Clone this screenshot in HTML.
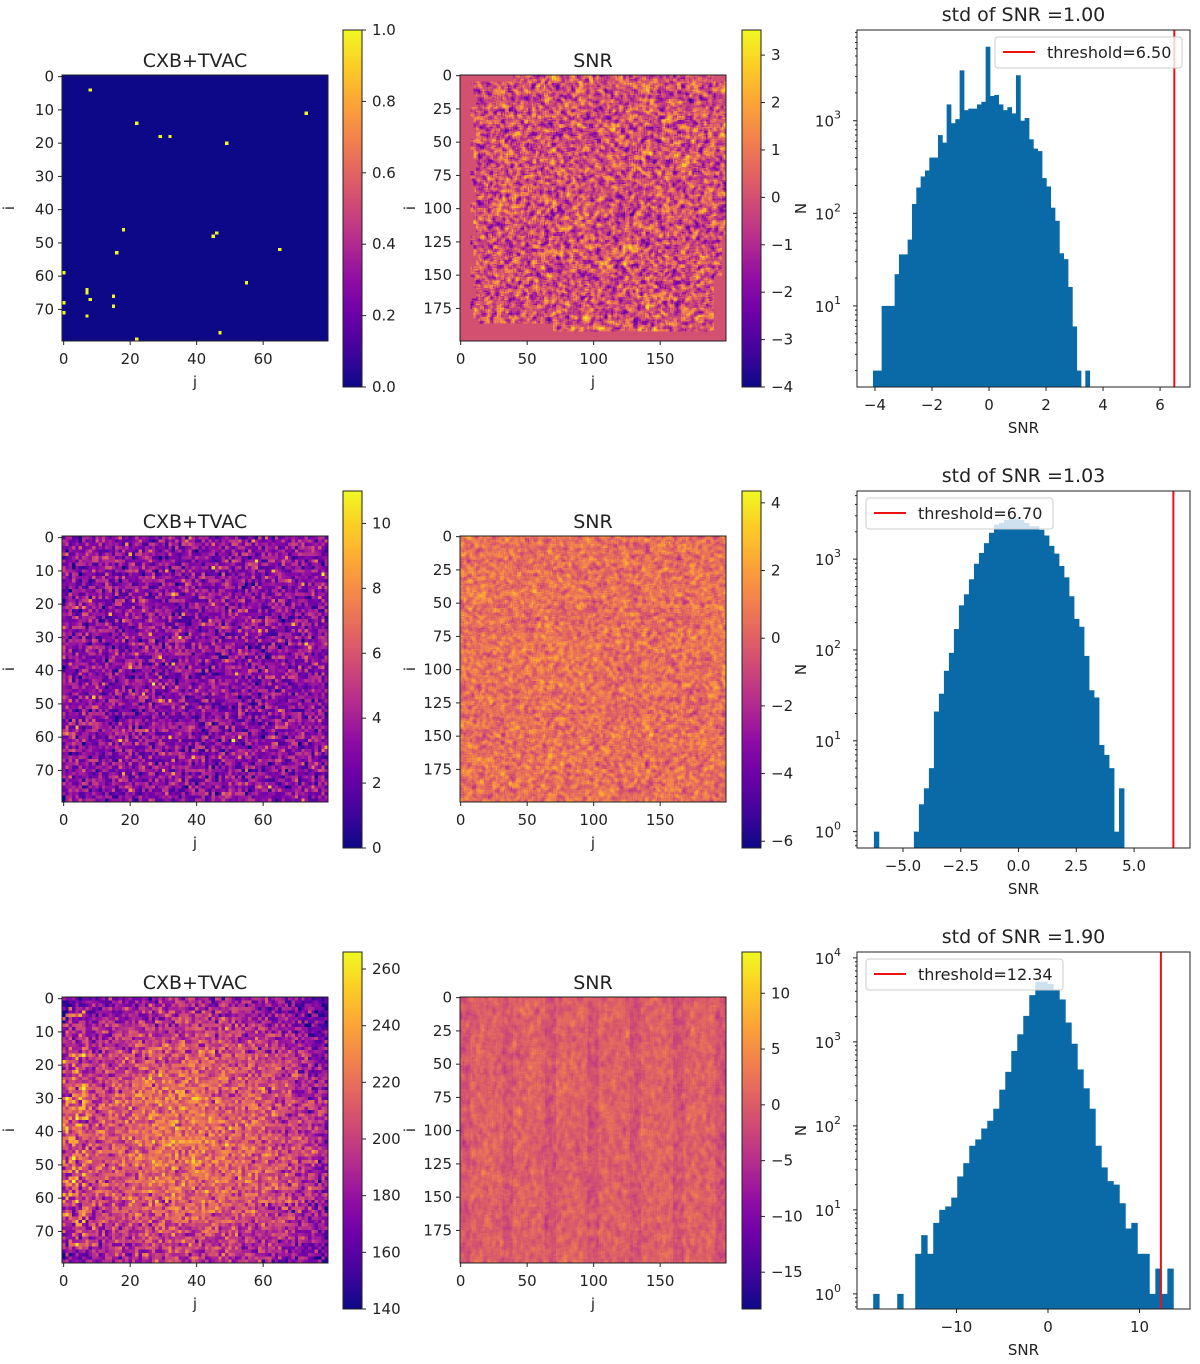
<!DOCTYPE html>
<html><head><meta charset="utf-8">
<style>
html,body{margin:0;padding:0;background:#fff;width:1200px;height:1364px;overflow:hidden;}
#wrap{position:relative;width:1200px;height:1364px;overflow:hidden;font-family:"DejaVu Sans","Liberation Sans",sans-serif;}
canvas{position:absolute;image-rendering:pixelated;}
svg{position:absolute;left:0;top:0;display:block;}
</style></head>
<body>
<div id="wrap">
<svg id="svg" width="1200" height="1364"></svg>
</div>
<script>
// ---------- histogram data (bin counts) ----------
const hist1Counts = [2,2,10,10,10,22,36,36,52,126,190,250,290,400,400,700,580,1500,940,1040,3500,1300,1350,1350,1500,1600,6300,1850,1900,1500,1300,1400,1200,3100,1000,1070,630,500,470,240,195,115,83,37,32,16,6,2,0,2];
const hist1Start = -4.07, hist1Width = 0.152, hist1Threshold = 6.50, hist1Std = "1.00";
const hist2Counts = [1,0,0,0,0,0,0,0,1,2,3,5,21,33,59,93,170,310,410,600,890,1170,1500,1950,2400,2500,2700,2800,2800,2700,2500,2300,2300,2100,1820,1400,1150,840,630,390,220,180,86,36,30,9,7,5,1,3];
const hist2Start = -6.26, hist2Width = 0.2165, hist2Threshold = 6.70, hist2Std = "1.03";
const hist3Counts = [1,0,0,0,1,0,0,3,5,3,7,10,11,14,25,36,58,69,93,115,160,270,440,780,1230,2040,3600,5200,5200,4900,4200,3200,1700,950,470,280,160,58,32,22,20,12,6,7,3,3,1,2,1,2];
const hist3Start = -19.1, hist3Width = 0.656, hist3Threshold = 12.34, hist3Std = "1.90";
// ---------- CXB+TVAC row 1 bright pixels [row, col] ----------
const spotRows = [4,14,18,18,20,11,46,47,48,53,52,59,62,64,65,67,66,69,68,71,72,77,79];
const spotCols = [8,22,29,32,49,73,18,46,45,16,65,0,55,7,7,8,15,15,0,0,7,47,22];
// ---------- tick labels ----------
const cbTicks = [[0,0.2,0.4,0.6,0.8,1.0],[-4,-3,-2,-1,0,1,2,3],[0,2,4,6,8,10],[-6,-4,-2,0,2,4],[140,160,180,200,220,240,260],[-15,-10,-5,0,5,10]];
const cbRanges = [[0,1],[-4,3.53],[0,11],[-6.2,4.35],[140,266],[-18.3,13.7]];
const histXTicks = [[-4,-2,0,2,4,6],[-5,-2.5,0,2.5,5],[-10,0,10]];
const histXRanges = [[-4.63,7.05],[-6.99,7.42],[-20.87,15.52]];
const histYRanges = [[0.124,3.98],[-0.18,3.75],[-0.18,4.07]];
const imgATicks = [0,20,40,60], imgAYTicks=[0,10,20,30,40,50,60,70];
const imgBTicks = [0,50,100,150], imgBYTicks=[0,25,50,75,100,125,150,175];

const NS="http://www.w3.org/2000/svg";
const svg=document.getElementById('svg');
const wrap=document.getElementById('wrap');
function el(tag,attrs,parent){const e=document.createElementNS(NS,tag);for(const k in attrs)e.setAttribute(k,attrs[k]);(parent||svg).appendChild(e);return e;}
function txt(s,x,y,anchor,size,parent){const t=el('text',{x:x,y:y,'text-anchor':anchor||'middle','font-size':size||15,fill:'#222'},parent);t.textContent=s;return t;}
function fmt(v){const s=String(v);return s.replace('-','\u2212');}

const stops=[[13,8,135],[65,4,157],[106,0,168],[143,13,164],[177,42,144],[204,71,120],[225,100,98],[242,132,75],[252,166,54],[252,206,37],[240,249,33]];
function plasma(t){t=Math.max(0,Math.min(1,t));const f=t*10,i=Math.min(9,Math.floor(f)),u=f-i;const a=stops[i],b=stops[i+1];return [a[0]+(b[0]-a[0])*u,a[1]+(b[1]-a[1])*u,a[2]+(b[2]-a[2])*u];}
function hash(i,j,s){let h=(i*374761393+j*668265263+s*982451653)|0;h=(h^(h>>>13))*1274126177|0;h=h^(h>>>16);return (h>>>0)/4294967296;}
function gauss(i,j,s){return (hash(i,j,s)+hash(i,j,s+7)+hash(i,j,s+13)+hash(i,j,s+29)-2)*1.7;}

function makeCanvas(x,y,w,h,n,name){const c=document.createElement('canvas');c.width=n;c.height=n;c.style.left=x+'px';c.style.top=y+'px';c.style.width=w+'px';c.style.height=h+'px';


wrap.insertBefore(c,svg);return c;}
function paint(c,n,fn,range){const ctx=c.getContext('2d');const im=ctx.createImageData(n,n);for(let r=0;r<n;r++)for(let q=0;q<n;q++){const v=fn(r,q);const col=plasma((v-range[0])/(range[1]-range[0]));const k=(r*n+q)*4;im.data[k]=col[0];im.data[k+1]=col[1];im.data[k+2]=col[2];im.data[k+3]=255;}ctx.putImageData(im,0,0);}
function smooth(n,s,rad,sx,sy){const g=[];for(let r=0;r<n;r++){g.push([]);for(let q=0;q<n;q++)g[r].push(gauss(r,q,s));}const o=[];for(let r=0;r<n;r++){o.push([]);for(let q=0;q<n;q++){let a=0,m=0;for(let dr=-sy;dr<=sy;dr++)for(let dq=-sx;dq<=sx;dq++){const rr=r+dr,qq=q+dq;if(rr>=0&&rr<n&&qq>=0&&qq<n){a+=g[rr][qq];m++;}}o[r].push(a/m*rad);}}return o;}

const rowOff=[0,461,922];
const AX={ax:62,bx:460,w:266,top:75};

for(let r=0;r<3;r++){
  const oy=rowOff[r];
  const cA=makeCanvas(AX.ax,AX.top+oy,AX.w,AX.w,80,'cxb-tvac-heatmap-'+(r+1));
  if(r===0){paint(cA,80,(i,j)=>0,[0,1]);const ctx=cA.getContext('2d');ctx.fillStyle='rgb(240,249,33)';for(let k=0;k<spotRows.length;k++)ctx.fillRect(spotCols[k],spotRows[k],1,1);}
  else if(r===1){paint(cA,80,(i,j)=>{const u=hash(i,j,11);return 3.3+gauss(i,j,5)*1.4+(u>0.99?5:0);},cbRanges[2]);}
  else{paint(cA,80,(i,j)=>{const d=Math.hypot(i-42,j-38)/45;let v=220-38*d*d+gauss(i,j,9)*15;if(j<8&&hash(i,j,3)>0.55&&i>2&&i<76)v+=18+hash(i,j,4)*30;return v;},cbRanges[4]);}
  const cB=makeCanvas(AX.bx,AX.top+oy,AX.w,AX.w,200,'snr-heatmap-'+(r+1));
  const sm=smooth(200,21+r,r===2?2.2:1.8,1,r===2?2:1);
  if(r===0){paint(cB,200,(i,j)=>{const edge=(j<8+((i>>3)%3)*2)||(i<5&&(j<40||j>190))||(i>186&&j<70)||(i>192)||(j>196&&i>120)||(j>190&&i>150);return edge?0:sm[i][j]*1.7;},cbRanges[1]);}
  else if(r===1){paint(cB,200,(i,j)=>0.5+sm[i][j]*1.2,cbRanges[3]);}
  else{paint(cB,200,(i,j)=>0.5+sm[i][j]*2.0+((j>>3)%4===0?-1.5:0),cbRanges[5]);}

  [[AX.ax,80,imgATicks,imgAYTicks,'cxb-tvac'],[AX.bx,200,imgBTicks,imgBYTicks,'snr']].forEach(([x0,n,xt,yt,nm],pi)=>{
    const g=el('g',{});
    
    
    const cw=AX.w/n, top=AX.top+oy;
    el('rect',{x:x0,y:top,width:AX.w,height:AX.w,fill:'none',stroke:'#222','stroke-width':1},g);
    xt.forEach(v=>{const x=x0+(v+0.5)*cw;el('line',{x1:x,x2:x,y1:top+AX.w,y2:top+AX.w+4,stroke:'#222'},g);txt(fmt(v),x,top+AX.w+23,'middle',15,g);});
    yt.forEach(v=>{const y=top+(v+0.5)*cw;el('line',{x1:x0-4,x2:x0,y1:y,y2:y,stroke:'#222'},g);txt(fmt(v),x0-8,y+5,'end',15,g);});
    txt(pi===0?'CXB+TVAC':'SNR',x0+AX.w/2,top-8,'middle',19,g);
    txt('j',x0+AX.w/2,top+AX.w+46,'middle',15,g);
    const il=txt('i',0,0,'middle',15,g);il.setAttribute('transform','translate('+(x0-48+(pi?3:0))+','+(top+AX.w/2)+') rotate(-90)');
  });

  [[343,r*2],[742,r*2+1]].forEach(([cx,ci])=>{
    const g=el('g',{});
    
    
    const top=30+oy,h=357,gid='cg'+ci;
    const lg=el('linearGradient',{id:gid,x1:0,y1:1,x2:0,y2:0},el('defs',{},g));
    for(let k=0;k<=10;k++){el('stop',{offset:k/10,'stop-color':'rgb('+stops[k].map(Math.round).join(',')+')'},lg);}
    el('rect',{x:cx,y:top,width:19,height:h,fill:'url(#'+gid+')',stroke:'#222','stroke-width':1},g);
    const rg=cbRanges[ci];
    cbTicks[ci].forEach(v=>{const y=top+h-(v-rg[0])/(rg[1]-rg[0])*h;el('line',{x1:cx+19,x2:cx+23,y1:y,y2:y,stroke:'#222'},g);txt(ci===0?v.toFixed(1):fmt(v),cx+29,y+5,'start',15,g);});
  });
}

const H=[[hist1Counts,hist1Start,hist1Width,hist1Threshold,hist1Std],[hist2Counts,hist2Start,hist2Width,hist2Threshold,hist2Std],[hist3Counts,hist3Start,hist3Width,hist3Threshold,hist3Std]];
const legendPos=[[995,37],[866,498],[866,959]];
H.forEach(([counts,start,w,thr,std],r)=>{
  const oy=rowOff[r],x0=857,x1=1190,top=30+oy,bot=387+oy;
  const xr=histXRanges[r],yr=histYRanges[r];
  const X=v=>x0+(v-xr[0])/(xr[1]-xr[0])*(x1-x0);
  const Y=c=>bot-(Math.log10(c)-yr[0])/(yr[1]-yr[0])*(bot-top);
  const g=el('g',{});
  
  
  const cp=el('clipPath',{id:'hc'+r},el('defs',{},g));el('rect',{x:x0,y:top,width:x1-x0,height:bot-top},cp);
  const bars=el('g',{'clip-path':'url(#hc'+r+')'},g);
  counts.forEach((c,k)=>{if(c<=0)return;const xa=X(start+k*w),xb=X(start+(k+1)*w),y=Y(c);
    const b=el('rect',{x:xa,y:y,width:xb-xa+0.4,height:bot-y+2,fill:'#0a6aa8'},bars);
    
    });
  const tl=el('line',{x1:X(thr),x2:X(thr),y1:top,y2:bot,stroke:'#ee1111','stroke-width':2},bars);
  
  
  el('rect',{x:x0,y:top,width:x1-x0,height:bot-top,fill:'none',stroke:'#222'},g);
  histXTicks[r].forEach(v=>{const x=X(v);el('line',{x1:x,x2:x,y1:bot,y2:bot+4,stroke:'#222'},g);txt(fmt(r===1?v.toFixed(1):v),x,bot+23,'middle',15,g);});
  for(let d=Math.floor(yr[0]);d<=Math.ceil(yr[1]);d++){
    for(let m=1;m<10;m++){const lv=d+Math.log10(m);if(lv<yr[0]||lv>yr[1])continue;const y=Y(Math.pow(10,lv));
      el('line',{x1:x0-(m===1?4:2),x2:x0,y1:y,y2:y,stroke:'#222'},g);
      if(m===1){const t=txt('10',x0-16,y+6,'end',15,g);const s=el('tspan',{dy:-8,'font-size':11},t);s.textContent=String(d);}}
  }
  txt('std of SNR ='+std,(x0+x1)/2,top-9,'middle',19,g);
  txt('SNR',(x0+x1)/2,bot+46,'middle',15,g);
  const nl=txt('N',0,0,'middle',15,g);nl.setAttribute('transform','translate('+(x0-51)+','+((top+bot)/2)+') rotate(-90)');
  const [lx,ly]=legendPos[r];const lw=r===2?197:187;
  const lgd=el('g',{},g);
  
  
  el('rect',{x:lx,y:ly,width:lw,height:31,rx:3,fill:'rgba(255,255,255,0.8)',stroke:'#ccc'},lgd);
  el('line',{x1:lx+8,x2:lx+40,y1:ly+15,y2:ly+15,stroke:'#ee1111','stroke-width':2},lgd);
  txt('threshold='+thr.toFixed(2),lx+52,ly+21,'start',16,lgd);
});
</script>
</body></html>
